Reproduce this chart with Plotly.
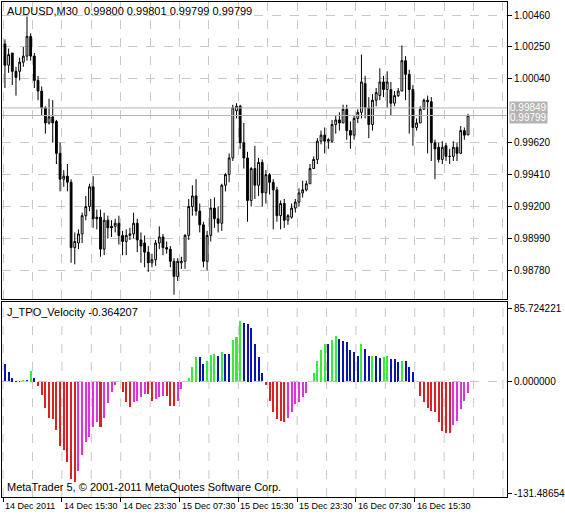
import plotly.graph_objects as go
from plotly.subplots import make_subplots

# AUDUSD M30 candles
opens = [1.0027,1.0013,1.0021,1.0009,1.0009,1.0015,1.0019,1.0032,1.0019,1.0003,
         0.9996,0.9985,0.9975,0.9979,0.9976,0.9955,0.9938,0.9940,0.9936,0.9893,
         0.9896,0.9902,0.9914,0.9920,0.9933,0.9913,0.9913,0.9892,0.9911,0.9907,
         0.9907,0.9909,0.9901,0.9897,0.9901,0.9902,0.9909,0.9898,0.9896,0.9890,
         0.9883,0.9885,0.9896,0.9900,0.9893,0.9892,0.9884,0.9874,0.9883,0.9884,
         0.9901,0.9920,0.9927,0.9917,0.9908,0.9884,0.9901,0.9919,0.9912,0.9909,
         0.9934,0.9941,0.9952,0.9983,0.9986,0.9962,0.9952,0.9924,0.9945,0.9934,
         0.9949,0.9929,0.9941,0.9936,0.9931,0.9914,0.9922,0.9911,0.9913,0.9919,
         0.9923,0.9929,0.9931,0.9935,0.9945,0.9951,0.9963,0.9967,0.9963,0.9963,
         0.9974,0.9977,0.9975,0.9984,0.9970,0.9967,0.9978,0.9982,1.0001,0.9985,
         0.9974,0.9990,0.9993,1.0002,0.9997,0.9997,0.9988,0.9993,0.9996,1.0016,
         1.0007,0.9997,0.9972,0.9975,0.9984,0.9990,0.9989,0.9962,0.9959,0.9951,
         0.9960,0.9953,0.9953,0.9959,0.9955,0.9970,0.99671]
closes = [1.0013,1.0020,1.0009,1.0005,1.0015,1.0019,1.0032,1.0019,1.0003,0.9996,
          0.9985,0.9975,0.9979,0.9975,0.9955,0.9938,0.9940,0.9936,0.9893,0.9897,
          0.9902,0.9914,0.9920,0.9933,0.9912,0.9912,0.9892,0.9911,0.9906,0.9906,
          0.9909,0.9901,0.9897,0.9901,0.9902,0.9909,0.9898,0.9894,0.9890,0.9883,
          0.9885,0.9896,0.9900,0.9893,0.9892,0.9884,0.9874,0.9884,0.9884,0.9901,
          0.9920,0.9927,0.9917,0.9908,0.9884,0.9901,0.9919,0.9912,0.9909,0.9934,
          0.9941,0.9952,0.9985,0.9986,0.9962,0.9952,0.9924,0.9945,0.9934,0.9949,
          0.9929,0.9941,0.9936,0.9931,0.9914,0.9922,0.9911,0.9914,0.9919,0.9923,
          0.9929,0.9931,0.9935,0.9945,0.9951,0.9963,0.9967,0.9963,0.9964,0.9974,
          0.9977,0.9975,0.9984,0.9970,0.9967,0.9978,0.9982,1.0002,0.9985,0.9974,
          0.9990,0.9995,1.0002,0.9997,1.0002,0.9988,0.9993,0.9996,1.0016,1.0007,
          0.9997,0.9972,0.9975,0.9984,0.9990,0.9989,0.9962,0.9958,0.9951,0.9959,
          0.9953,0.9953,0.9959,0.9955,0.9970,0.9967,0.99799]
highs = [1.0030,1.0024,1.0021,1.0012,1.0018,1.0025,1.0045,1.0034,1.0021,1.0006,
         0.9999,0.9986,0.9991,0.9990,0.9977,0.9962,0.9944,0.9948,0.9938,0.9903,
         0.9905,0.9916,0.9927,0.9935,0.9940,0.9918,0.9918,0.9916,0.9914,0.9911,
         0.9912,0.9914,0.9904,0.9905,0.9906,0.9916,0.9912,0.9903,0.9901,0.9894,
         0.9889,0.9898,0.9907,0.9902,0.9897,0.9894,0.9886,0.9886,0.9887,0.9902,
         0.9925,0.9934,0.9938,0.9922,0.9910,0.9904,0.9925,0.9926,0.9920,0.9935,
         0.9942,0.9955,0.9987,0.9988,0.9987,0.9975,0.9956,0.9946,0.9960,0.9952,
         0.9951,0.9944,0.9942,0.9938,0.9933,0.9924,0.9925,0.9915,0.9922,0.9925,
         0.9932,0.9937,0.9937,0.9948,0.9953,0.9965,0.9970,0.9972,0.9965,0.9977,
         0.9980,0.9982,0.9987,0.9987,0.9976,0.9980,0.9984,1.0020,1.0006,0.9992,
         0.9994,0.9998,1.0011,1.0006,1.0009,1.0002,0.9996,0.9998,1.0026,1.0019,
         1.0010,1.0000,0.9978,0.9986,0.9991,0.9993,0.9992,0.9964,0.9962,0.9963,
         0.9962,0.9958,0.9963,0.9962,0.9973,0.9972,0.9981]
lows = [0.9998,1.0008,1.0000,0.9993,1.0003,1.0012,1.0016,1.0016,0.9998,0.9990,
        0.9980,0.9968,0.9974,0.9962,0.9948,0.9930,0.9933,0.9930,0.9883,0.9882,
        0.9892,0.9896,0.9911,0.9917,0.9906,0.9905,0.9887,0.9888,0.9899,0.9900,
        0.9903,0.9895,0.9888,0.9888,0.9898,0.9899,0.9890,0.9883,0.9880,0.9877,
        0.9880,0.9881,0.9892,0.9888,0.9889,0.9880,0.9862,0.9871,0.9879,0.9879,
        0.9898,0.9914,0.9914,0.9903,0.9880,0.9878,0.9897,0.9906,0.9903,0.9904,
        0.9930,0.9936,0.9950,0.9978,0.9958,0.9945,0.9910,0.9920,0.9925,0.9927,
        0.9920,0.9922,0.9928,0.9905,0.9910,0.9905,0.9906,0.9908,0.9912,0.9916,
        0.9920,0.9926,0.9930,0.9940,0.9947,0.9948,0.9961,0.9955,0.9958,0.9962,
        0.9968,0.9970,0.9980,0.9964,0.9958,0.9964,0.9975,0.9978,0.9978,0.9965,
        0.9970,0.9986,0.9990,0.9992,0.9985,0.9980,0.9986,0.9992,1.0003,0.9990,
        0.9968,0.9960,0.9970,0.9980,0.9985,0.9955,0.9950,0.9938,0.9949,0.9948,
        0.9950,0.9948,0.9950,0.9950,0.9955,0.9964,0.9969]

# J_TPO_Velocity values
velocity = [21,12,4,1,1,2,2,13,4,-5,
            -16,-31,-42,-44,-57,-75,-80,-94,-114,-118,
            -105,-86,-71,-65,-53,-47,-53,-43,-25,-12,
            -4,0,-12,-24,-30,-24,-22,-18,-14,-14,
            -22,-20,-18,-17,-17,-28,-28,-22,-8,0,
            5,18,29,29,21,25,32,33,31,35,
            33,33,49,53,72,69,68,63,45,29,
            11,-4,-22,-36,-44,-46,-47,-42,-36,-26,
            -24,-18,-13,1,11,25,38,44,44,49,
            54,50,48,47,37,35,30,44,39,30,
            31,30,28,29,30,27,27,23,25,24,
            18,12,0,-17,-24,-31,-34,-35,-47,-58,
            -60,-60,-51,-46,-32,-23,-13]

date_labels = ["14 Dec 2011", "14 Dec 15:30", "14 Dec 23:30", "15 Dec 07:30",
               "15 Dec 15:30", "15 Dec 23:30", "16 Dec 07:30", "16 Dec 15:30"]
price_ticks = [1.00460, 1.00250, 1.00040, 0.99620, 0.99410, 0.99200, 0.98990, 0.98780]

n = len(closes)
idx = list(range(n))
highs = [max(h, o, c) for h, o, c in zip(highs, opens, closes)]
lows = [min(l, o, c) for l, o, c in zip(lows, opens, closes)]

colors = []
for i, v in enumerate(velocity):
    prev = velocity[i - 1] if i > 0 else v + 1
    if v >= 0:
        colors.append('#33ee33' if v > prev else '#0a14b4')
    else:
        colors.append('#e030e0' if v > prev else '#dc2020')

FONT = "Liberation Sans"

fig = make_subplots(rows=2, cols=1, shared_xaxes=True)
fig.add_trace(go.Candlestick(
    x=idx, open=opens, high=highs, low=lows, close=closes,
    increasing=dict(line=dict(color='black', width=1), fillcolor='white'),
    decreasing=dict(line=dict(color='black', width=1), fillcolor='black'),
    whiskerwidth=0, showlegend=False), row=1, col=1)
fig.add_trace(go.Bar(x=idx, y=velocity, marker_color=colors, marker_line_width=0,
                     width=0.55, showlegend=False), row=2, col=1)

grid_vals = [-0.5 + 8 * k for k in range(18)]
label_vals = [-0.5 + 16 * k for k in range(len(date_labels))]

axis_common = dict(showline=True, linecolor='black', mirror=True, zeroline=False,
                   automargin=False)
fig.update_layout(
    width=565, height=518, paper_bgcolor='white', plot_bgcolor='white',
    margin=dict(l=2, r=58, t=2, b=21),
    font=dict(family=FONT, size=11, color='black'),
    bargap=0,
    xaxis=dict(range=[-0.8, 136.6], rangeslider_visible=False, tickvals=grid_vals,
               showticklabels=False, ticks='', showgrid=True, gridcolor='#c8c8c8',
               griddash='dash', **axis_common),
    xaxis2=dict(range=[-0.8, 136.6], tickvals=label_vals, showticklabels=False,
                ticks='outside', ticklen=4, tickcolor='black',
                showgrid=False, **axis_common),
    yaxis=dict(domain=[0.401, 1], range=[0.98595, 1.00546], side='right',
               tickvals=price_ticks, ticktext=['%.5f' % p for p in price_ticks],
               ticks='outside', ticklen=4, tickcolor='black', tickfont=dict(size=10),
               showgrid=True, gridcolor='#c8c8c8', griddash='dash', **axis_common),
    yaxis2=dict(domain=[0, 0.3947], range=[-136, 94], side='right',
                tickvals=[85.724221, 0, -131.486545],
                ticktext=['85.724221', '0.000000', '-131.486545'],
                ticks='outside', ticklen=4, tickcolor='black', tickfont=dict(size=10),
                showgrid=False, **axis_common),
)
# dashed vertical grid in the indicator panel
for v in grid_vals:
    fig.add_vline(x=v, line=dict(color='#c8c8c8', width=1, dash='dash'), row=2, col=1)
fig.add_hline(y=0, line=dict(color='#c8c8c8', width=1, dash='dash'), row=2, col=1)
for level in [0.99849, 0.99799]:
    fig.add_hline(y=level, line=dict(color='#b4b4b4', width=1), row=1, col=1)

for level, ya in [(0.99849, 0.99853), (0.99799, 0.99786)]:
    fig.add_annotation(x=1, xref='paper', xanchor='left', xshift=2, y=ya, yref='y',
                       text='%.5f' % level, showarrow=False, bgcolor='#b4b4b4',
                       font=dict(color='white', size=10), borderpad=0)

for v, lab in zip(label_vals, date_labels):
    fig.add_annotation(x=v, xref='x2', xanchor='left', y=0, yref='paper',
                       yanchor='top', yshift=-2, text=lab, showarrow=False,
                       font=dict(size=9))

fig.add_annotation(x=0, xref='paper', xanchor='left', xshift=3, y=1, yref='paper',
                   yanchor='top', yshift=-1, showarrow=False,
                   text='AUDUSD,M30  0.99800 0.99801 0.99799 0.99799')
fig.add_annotation(x=0, xref='paper', xanchor='left', xshift=3, y=0.3947, yref='paper',
                   yanchor='top', yshift=-2, showarrow=False,
                   text='J_TPO_Velocity -0.364207')
fig.add_annotation(x=0, xref='paper', xanchor='left', xshift=3, y=0, yref='paper',
                   yanchor='bottom', yshift=2, showarrow=False,
                   text='MetaTrader 5, © 2001-2011 MetaQuotes Software Corp.')

fig.write_html("out.html", config={'displayModeBar': False},
               post_script="document.body.style.margin='0';")
